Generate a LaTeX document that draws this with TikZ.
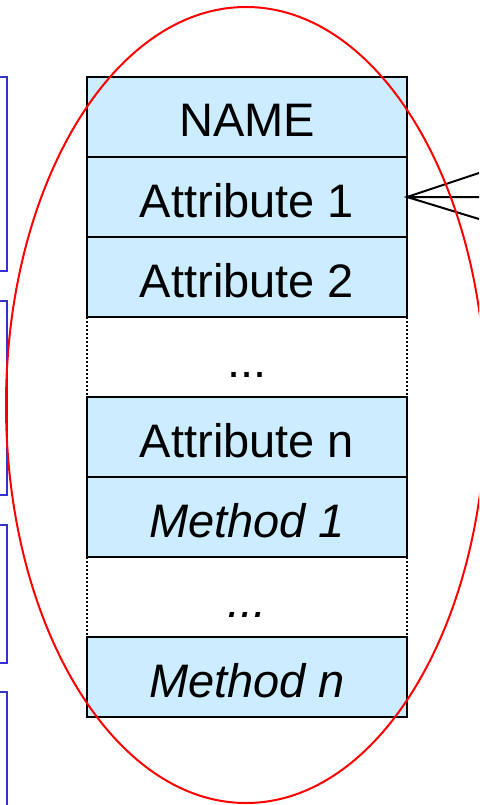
\documentclass[tikz,border=0pt]{standalone}
\usepackage{fontspec}
\setmainfont{Liberation Sans}
\usetikzlibrary{positioning}
\definecolor{cellblue}{RGB}{204,236,255}
\definecolor{frameblue}{RGB}{51,51,204}

\begin{document}
\begin{tikzpicture}[x=1pt, y=-1pt, line width=2.4pt]
\tikzstyle{cell}=[rectangle, draw=black, fill=cellblue, minimum width=320pt, minimum height=80pt, inner sep=0pt, outer sep=0pt, text height=40pt, text depth=0pt, font=\fontsize{47}{47}\selectfont]
\tikzstyle{gap cell}=[cell, draw=none, fill=none]
\tikzstyle{gapline}=[black, line width=2pt, dash pattern=on 2pt off 2pt]
\tikzstyle{bracket}=[frameblue, line width=2.4pt]
\tikzstyle{ring}=[red, line width=2pt]

\useasboundingbox (0,0) rectangle (479,805);
\clip (0,0) rectangle (479,805);

% Draw the blue frames cut by the left border
\foreach \ytop/\ybot in {77/271, 301/495, 525/663, 692/830}
    \draw[bracket] (-20,\ytop) -| (7,\ybot) -- (-20,\ybot);

% Draw the class box, one row after the other
\node[cell] (name) at (247,117) {NAME};
\node[cell, below=0pt of name] (attr1) {Attribute 1};
\node[cell, below=0pt of attr1] (attr2) {Attribute 2};
\node[gap cell, below=0pt of attr2] (attrgap) {...};
\node[cell, below=0pt of attrgap] (attrn) {Attribute n};
\node[cell, below=0pt of attrn] (meth1) {\itshape Method 1};
\node[gap cell, below=0pt of meth1] (methgap) {\itshape ...};
\node[cell, below=0pt of methgap] (methn) {\itshape Method n};

\foreach \gap in {attrgap, methgap}
    \draw[gapline] (\gap.north west) -- (\gap.south west) (\gap.north east) -- (\gap.south east);

% Lines leaving Attribute 1
\coordinate (tipa) at (479,173);
\coordinate (tipb) at (479,197);
\coordinate (tipc) at (479,219);
\draw[line width=2pt] (tipa) -- (attr1.east) -- (tipc) (attr1.east) -- (tipb);

% Red ring round the class
\draw[ring] (246,405) ellipse [x radius=240pt, y radius=398pt];

\end{tikzpicture}
\end{document}
